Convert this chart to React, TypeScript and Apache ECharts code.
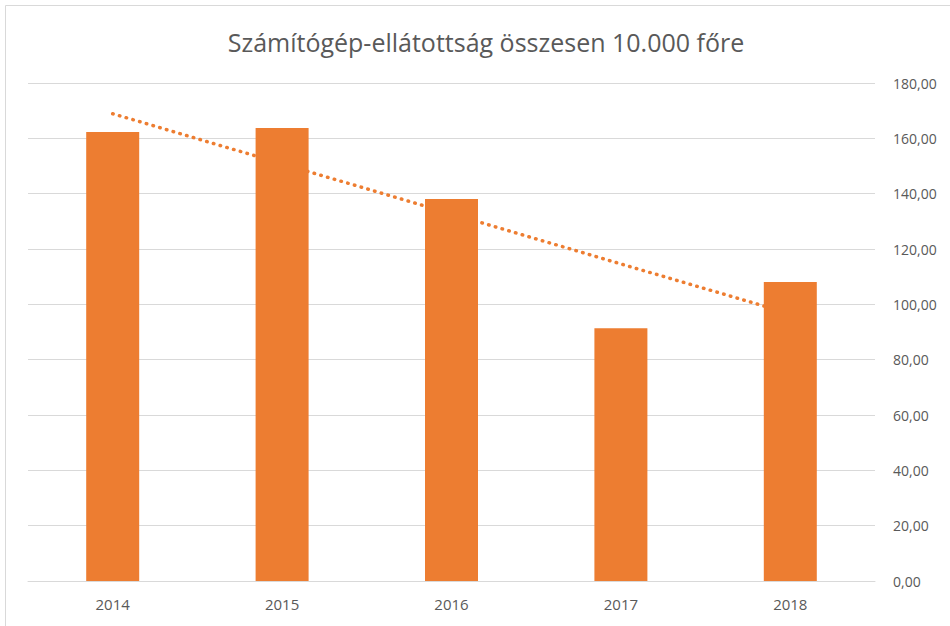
import React, { useEffect, useRef } from "react";
import * as echarts from "echarts";

const TITLE = "Számítógép-ellátottság összesen 10.000 főre";
const categories = ["2014", "2015", "2016", "2017", "2018"];
const barValues = [162.3, 163.7, 138.1, 91.4, 108.1];
const trendValues = [168.9, 150.8, 132.7, 114.6, 96.6];
const yTicks = { min: 0, max: 180, interval: 20 };

export default function App() {
  const ref = useRef<HTMLDivElement>(null);
  useEffect(() => {
    if (!ref.current) return;
    const chart = echarts.init(ref.current, undefined, { renderer: "svg" });
    chart.setOption({
      animation: false,
      backgroundColor: "#ffffff",
      title: {
        text: TITLE,
        left: 481,
        textAlign: "center",
        top: 24,
        textStyle: {
          fontFamily: "Open Sans",
          fontSize: 25,
          fontWeight: "normal",
          color: "#595959",
        },
      },
      graphic: [
        { type: "line", shape: { x1: 5.5, y1: 5.5, x2: 950, y2: 5.5 }, style: { stroke: "#d9d9d9", lineWidth: 1 } },
        { type: "line", shape: { x1: 5.5, y1: 5.5, x2: 5.5, y2: 626 }, style: { stroke: "#d9d9d9", lineWidth: 1 } },
      ],
      grid: { left: 28, right: 75, top: 83, bottom: 45, containLabel: false },
      xAxis: {
        type: "category",
        data: categories,
        axisLine: { lineStyle: { color: "#d9d9d9", width: 1 } },
        axisTick: { show: false },
        axisLabel: {
          margin: 15,
          fontFamily: "Open Sans",
          fontSize: 15,
          color: "#595959",
        },
      },
      yAxis: {
        type: "value",
        position: "right",
        min: yTicks.min,
        max: yTicks.max,
        interval: yTicks.interval,
        axisLine: { show: false },
        axisTick: { show: false },
        splitLine: { lineStyle: { color: "#d9d9d9", width: 1 } },
        axisLabel: {
          align: "left",
          margin: 18,
          fontFamily: "Open Sans",
          fontSize: 14,
          color: "#595959",
          formatter: (v: number) => v.toFixed(2).replace(".", ","),
        },
      },
      series: [
        {
          type: "line",
          data: trendValues,
          symbol: "none",
          z: 1,
          lineStyle: { color: "#ED7D31", width: 3.5, type: [0.5, 6.5], cap: "round" },
        },
        {
          type: "bar",
          data: barValues,
          barWidth: 53,
          z: 2,
          itemStyle: { color: "#ED7D31" },
        },
      ],
    });
    return () => chart.dispose();
  }, []);
  return <div ref={ref} style={{ position: "fixed", left: 0, top: 0, width: 950, height: 626 }} />;
}
